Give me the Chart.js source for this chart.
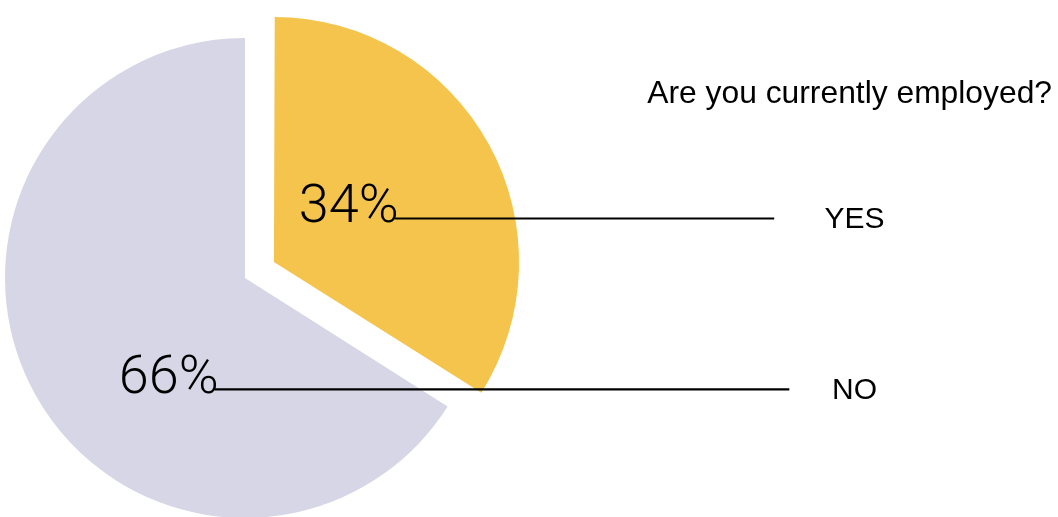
<!DOCTYPE html>
<html>
<head>
<meta charset="utf-8">
<script src="https://cdn.jsdelivr.net/npm/chart.js@4.4.0/dist/chart.umd.min.js"></script>
<style>
html, body { margin: 0; padding: 0; background: #fff; }
#wrap { width: 1058px; height: 517px; }
</style>
</head>
<body>
<div id="wrap"><canvas id="myChart"></canvas></div>
<script>
const TITLE = 'Are you currently employed?';
const CATEGORIES = ['YES', 'NO'];
const PERCENTS = [34, 66];
const COLORS = ['rgb(245, 196, 76)', 'rgb(215, 214, 230)'];
// chart.js v4 draws an arc's offset at a quarter of this value
const OFFSETS = [132, 0];

// label placement, in units of the pie radius measured from its centre
const LINE_Y = [-0.248, 0.464];
const PCT_RIGHT = [0.64, -0.11];
const LINE_END = [2.205, 2.268];
const CAT_X = 2.54;

const ctx = document.getElementById('myChart');

const calloutPlugin = {
    id: 'callouts',
    afterDatasetsDraw(chart) {
        const c = chart.ctx;
        const base = chart.getDatasetMeta(0).data[1];
        const cx = base.x, cy = base.y, r = base.outerRadius;

        c.save();
        c.fillStyle = '#000';
        c.strokeStyle = '#000';
        c.lineWidth = 2.2;

        for (let i = 0; i < PERCENTS.length; i++) {
            const y = cy + LINE_Y[i] * r;
            const right = cx + PCT_RIGHT[i] * r;

            c.font = '300 54px Roboto';
            c.textAlign = 'right';
            c.textBaseline = 'alphabetic';
            c.fillText(PERCENTS[i] + '%', right, y + 3.5);

            c.beginPath();
            c.moveTo(right - 4, y);
            c.lineTo(cx + LINE_END[i] * r, y);
            c.stroke();

            c.font = '30px "Liberation Sans"';
            c.textAlign = 'center';
            c.textBaseline = 'middle';
            c.fillText(CATEGORIES[i], cx + CAT_X * r, y + 1);
        }

        c.font = '31.8px "Liberation Sans"';
        c.textAlign = 'right';
        c.textBaseline = 'alphabetic';
        c.fillText(TITLE, chart.width - 6, 103);
        c.restore();
    }
};

new Chart(ctx, {
    type: 'pie',
    data: {
        labels: CATEGORIES,
        datasets: [{
            data: PERCENTS,
            backgroundColor: COLORS,
            hoverBackgroundColor: COLORS,
            borderWidth: 0,
            offset: OFFSETS,
            hoverOffset: 0,
            clip: false
        }]
    },
    options: {
        responsive: true,
        maintainAspectRatio: false,
        animation: false,
        radius: 240,
        layout: {
            padding: { left: 0, top: 39, right: 568, bottom: 0 }
        },
        plugins: {
            legend: { display: false },
            tooltip: { enabled: false }
        }
    },
    plugins: [calloutPlugin]
});
</script>
</body>
</html>
